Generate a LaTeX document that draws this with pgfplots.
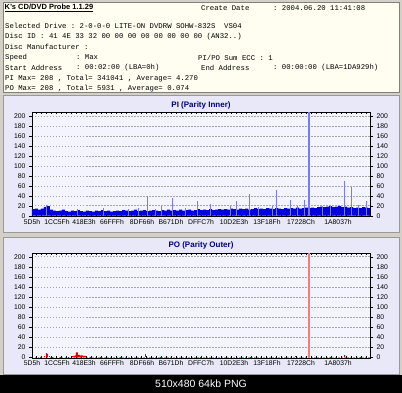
\documentclass[border=0pt]{standalone}
\usepackage{pgfplots}
\pgfplotsset{compat=1.18}
\usepackage{fontspec}
\setmainfont{Liberation Sans}
\setmonofont{Liberation Mono}
\definecolor{framegray}{RGB}{212,208,200}
\definecolor{cream}{RGB}{255,254,240}
\definecolor{panel}{RGB}{232,232,248}
\definecolor{plotbg}{RGB}{244,244,255}
\definecolor{navy}{RGB}{0,0,128}
\definecolor{piblue}{RGB}{0,0,225}
\definecolor{pilight}{RGB}{120,120,255}
\definecolor{pored}{RGB}{230,0,0}
\definecolor{polight}{RGB}{255,120,120}
\pgfplotsset{
  panelaxis/.style={
    scale only axis, width=338pt,
    xmin=32, xmax=370,
    xtick={32,57,84,112,142,171,201,234,267,301,338},
    xticklabels={5D5h,1CC5Fh,418E3h,66FFFh,8DF66h,B671Dh,DFFC7h,10D2E3h,13F18Fh,17228Ch,1A8037h},
    major x tick style={draw=none},
    minor xtick={36,41,...,370},
    minor x tick style={black, line width=0.4pt},
    minor tick length=1.8pt,
    ytick={0,20,...,200},
    ymajorgrids,
    major grid style={gray!70, dash pattern=on 1.5pt off 1.5pt, line width=0.5pt},
    y tick style={black},
    ytick align=outside, major tick length=3pt,
    axis line style={black, line width=0.8pt},
    tick label style={font=\fontsize{6.8}{7}\selectfont, text=black},
    /pgf/number format/assume math mode=true,
    xticklabel style={yshift=1pt},
    axis background/.style={fill=plotbg},
    clip=true,
  },
  rightaxis/.style={
    scale only axis, width=338pt,
    xmin=32, xmax=370,
    axis x line=none, axis y line*=right,
    ytick={0,20,...,200},
    ytick align=outside, major tick length=3pt,
    y tick style={black},
    axis line style={black, line width=0.8pt},
    tick label style={font=\fontsize{6.8}{7}\selectfont, text=black},
    /pgf/number format/assume math mode=true,
  },
}
\begin{document}
\begin{tikzpicture}
\path[use as bounding box] (0pt,0pt) rectangle (402pt,393pt);
\fill[framegray] (0pt,0pt) rectangle (402pt,393pt);
% black footer
\fill[black] (0pt,0pt) rectangle (402pt,18pt);
\node[text=white, font=\fontsize{10.5}{12}\selectfont] at (201pt,9pt) {510x480 64kb PNG};
% header box
\fill[cream] (3pt,301pt) rectangle (399pt,391pt);
\draw[gray, line width=0.6pt] (3pt,301pt) rectangle (399pt,391pt);
\node[anchor=west, inner sep=0pt, font=\fontsize{7.5}{9}\selectfont\bfseries, text=black] at (4.5pt,385pt) {\underline{K's CD/DVD Probe 1.1.29}};
\begin{scope}[every node/.style={anchor=west, inner sep=0pt, font=\fontsize{7.3}{9}\ttfamily, text=black}]
\node at (201pt,385pt) {Create Date};
\node at (273pt,385pt) {: 2004.06.20 11:41:08};
\node at (5pt,367pt) {Selected Drive : 2-0-0-0 LITE-ON DVDRW SOHW-832S\ \ VS04};
\node at (5pt,356.5pt) {Disc ID : 41 4E 33 32 00 00 00 00 00 00 00 00 (AN32..)};
\node at (5pt,346pt) {Disc Manufacturer :};
\node at (5pt,335.5pt) {Speed};
\node at (76pt,335.5pt) {: Max};
\node at (198pt,335.5pt) {PI/PO Sum ECC : 1};
\node at (5pt,325pt) {Start Address};
\node at (76pt,325pt) {: 00:02:00 (LBA=0h)};
\node at (201pt,325pt) {End Address};
\node at (273pt,325pt) {: 00:00:00 (LBA=1DA929h)};
\node at (5pt,314.5pt) {PI Max= 208 , Total= 341041 , Average= 4.270};
\node at (5pt,304pt) {PO Max= 208 , Total= 5931 , Average= 0.074};
\end{scope}
% panels
\fill[panel] (3pt,161pt) rectangle (399pt,298pt);
\draw[gray!80, line width=0.5pt] (3pt,161pt) rectangle (399pt,298pt);
\fill[panel] (3pt,19pt) rectangle (399pt,156pt);
\draw[gray!80, line width=0.5pt] (3pt,19pt) rectangle (399pt,156pt);
\node[text=navy, font=\fontsize{8}{10}\selectfont\bfseries] at (201pt,288pt) {PI (Parity Inner)};
\node[text=navy, font=\fontsize{8}{10}\selectfont\bfseries] at (201pt,147.3pt) {PO (Parity Outer)};
% PI axis
\begin{axis}[panelaxis, at={(32pt,176.3pt)}, anchor=south west, height=104.4pt, ymin=-2, ymax=207.4]
\addplot[const plot, fill=piblue, draw=none] coordinates {
(32,13)(35,14)(38,12)(41,14)(44,17)(47,19)(50,12)(53,10)(56,9)(59,10)(62,12)(65,9)(68,8)(71,10)(74,9)(77,11)(80,9)(83,8)(86,10)(89,9)(92,8)(95,10)(98,9)(101,11)(104,9)(107,10)(110,8)(113,9)(116,10)(119,9)(122,11)(125,10)(128,9)(131,10)(134,12)(137,9)(140,10)(143,11)(146,9)(149,10)(152,11)(155,10)(158,9)(161,11)(164,10)(167,12)(170,10)(173,11)(176,10)(179,12)(182,10)(185,11)(188,12)(191,10)(194,11)(197,13)(200,11)(203,12)(206,11)(209,13)(212,11)(215,12)(218,13)(221,12)(224,13)(227,12)(230,14)(233,13)(236,12)(239,14)(242,13)(245,14)(248,12)(251,13)(254,15)(257,13)(260,14)(263,13)(266,15)(269,14)(272,13)(275,15)(278,14)(281,13)(284,15)(287,14)(290,15)(293,14)(296,16)(299,14)(302,15)(305,16)(308,15)(311,16)(314,15)(317,17)(320,18)(323,17)(326,18)(329,19)(332,17)(335,18)(338,19)(341,17)(344,18)(347,16)(350,17)(353,15)(356,16)(359,15)(362,17)(365,16)(368,15)(371,15)
} \closedcycle;
\addplot[ycomb, pilight, line width=1pt, mark=none] coordinates {
(46.7,21)(78,14)(104,15)(128,14)(138,16)(147.7,40)(155,14)(161,20)(172.7,36)(185,16)(197.7,29)(210.3,23)(230,20)(236.3,29)(249.3,43)(258,18)(272,20)(276.3,51)(290.3,32)(297,20)(304.3,32)(322,20)(330,20)(344.3,70)(351.3,58)(358,22)(366,30)
};
\addplot[ycomb, pilight, line width=2pt, mark=none] coordinates {(308.7,208)};
\end{axis}
\begin{axis}[rightaxis, at={(32pt,176.3pt)}, anchor=south west, height=104.4pt, ymin=-2, ymax=207.4]
\end{axis}
% PO axis
\begin{axis}[panelaxis, at={(32pt,35pt)}, anchor=south west, height=104.7pt, ymin=-1.4, ymax=206.8]
\addplot[ycomb, pored, line width=0.8pt, mark=none] coordinates {
(40,1)(44,3)(46,8)(47.5,7)(49,3)(52,1)(60,1)(68,1)(72,2)(90,1)(100,1)(120,1)(145.7,7)(160,1)(200,1)(250,1)(295.3,3)(330,1)(344.3,4)(360,1)
};
\addplot[const plot, fill=pored, draw=none] coordinates {
(72,0)(73,3)(75,4)(76,10)(78,5)(80,4)(83,3)(86,0)
} \closedcycle;
\addplot[ycomb, polight, line width=2pt, mark=none] coordinates {(308.7,208)};
\end{axis}
\begin{axis}[rightaxis, at={(32pt,35pt)}, anchor=south west, height=104.7pt, ymin=-1.4, ymax=206.8]
\end{axis}
\end{tikzpicture}
\end{document}
